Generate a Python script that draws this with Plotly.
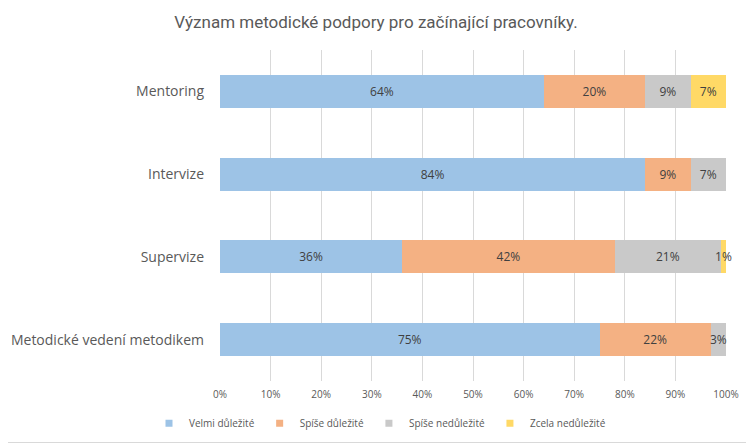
import plotly.graph_objects as go

categories = ["Mentoring", "Intervize", "Supervize", "Metodické vedení metodikem"]
series_names = ["Velmi důležité", "Spíše důležité", "Spíše nedůležité", "Zcela nedůležité"]
velmi = [64, 84, 36, 75]
spise_dul = [20, 9, 42, 22]
spise_nedul = [9, 7, 21, 3]
zcela_nedul = [7, 0, 1, 0]
colors = ["#9DC3E6", "#F4B183", "#C9C9C9", "#FFD966"]
tick_vals = [0, 10, 20, 30, 40, 50, 60, 70, 80, 90, 100]
tick_text = [f"{v}%" for v in tick_vals]

fig = go.Figure()
for name, vals, col in zip(series_names, [velmi, spise_dul, spise_nedul, zcela_nedul], colors):
    fig.add_trace(go.Bar(
        y=categories, x=vals, name=name, orientation="h",
        marker=dict(color=col, line=dict(width=0)),
        text=[f"{v}%" if v > 0 else "" for v in vals],
        textposition="inside", insidetextanchor="middle", textangle=0,
        constraintext="none", cliponaxis=False,
        textfont=dict(family="Open Sans", size=12, color="#404040"),
        hoverinfo="skip", showlegend=False,
    ))
    # legend entry with a small square swatch
    fig.add_trace(go.Scatter(
        x=[None], y=[None], mode="markers", name=name,
        marker=dict(symbol="square", size=7, color=col),
        showlegend=True, hoverinfo="skip",
    ))

# the page body has an 8px margin, so the figure is placed at (8, 8)
OFF = 8
W, H = 754 - OFF, 443 - OFF
L, R, T, B = 220 - OFF, 28, 50 - OFF, 62
pw = W - L - R
ph = H - T - B
fig.add_shape(type="rect", xref="paper", yref="paper",
              x0=(-OFF + 0.5 - L) / pw, x1=(W - 0.5 - L) / pw,
              y0=(ph + T - (H - 0.5)) / ph, y1=(ph + T + OFF - 0.5) / ph,
              line=dict(color="#D9D9D9", width=1), fillcolor="rgba(0,0,0,0)", layer="below")

fig.update_layout(
    width=W, height=H,
    margin=dict(l=L, r=R, t=T, b=B, autoexpand=False),
    paper_bgcolor="white", plot_bgcolor="white",
    barmode="stack", bargap=0.6,
    title=dict(text="Význam metodické podpory pro začínající pracovníky.",
               x=(376 - OFF) / W, xref="container", xanchor="center",
               y=1 - (22 - OFF) / H, yanchor="middle",
               font=dict(family="Roboto", size=17, color="#595959")),
    xaxis=dict(range=[0, 100], tickvals=tick_vals, ticktext=tick_text,
               showgrid=True, gridcolor="#D9D9D9", gridwidth=1, zeroline=False,
               showline=False, ticks="", fixedrange=True, ticklabelstandoff=6,
               tickfont=dict(family="Open Sans", size=10, color="#595959")),
    yaxis=dict(autorange="reversed", showgrid=False, showline=False, ticks="",
               ticklabelstandoff=15, fixedrange=True,
               tickfont=dict(family="Open Sans", size=14, color="#595959")),
    legend=dict(orientation="h", x=(380 - 220) / 506, xanchor="center",
                y=-0.128, yanchor="middle",
                font=dict(family="Open Sans", size=10, color="#595959"),
                traceorder="normal", itemwidth=30),
    showlegend=True,
)

fig.write_html("out.html")
